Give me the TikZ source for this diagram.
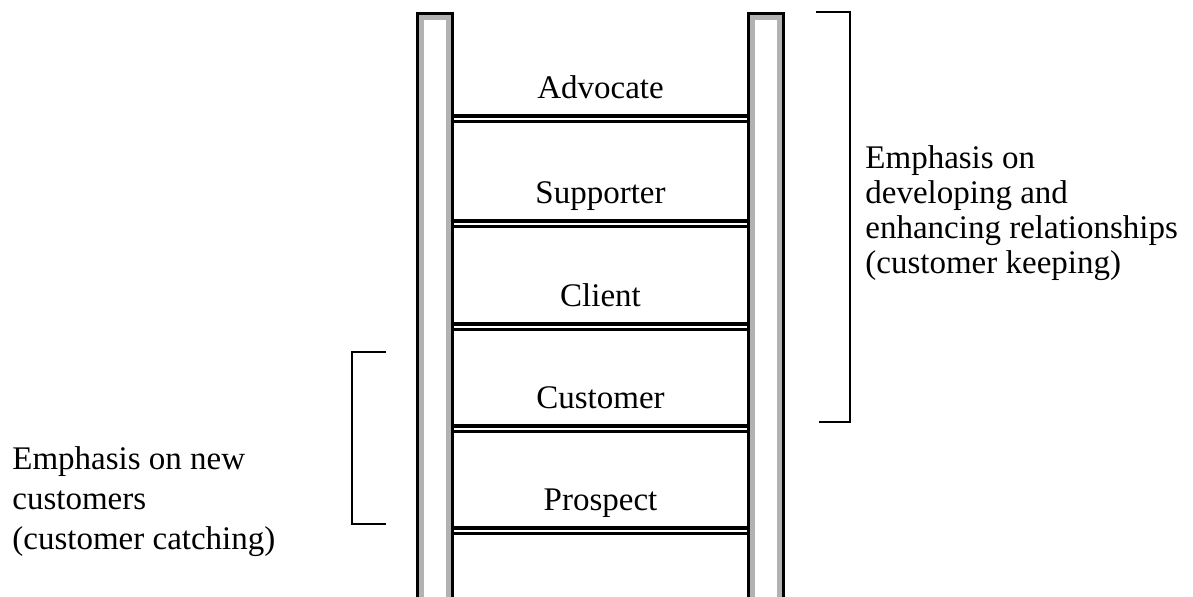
\documentclass[tikz,border=0pt]{standalone}
\usepackage{fontspec}
\setmainfont{Liberation Serif}
\begin{document}
\begin{tikzpicture}[x=0.5pt,y=-0.5pt,
  rail/.style={draw=black,line width=1.5pt,fill=gray!60},
  railcore/.style={fill=white},
  rungtop/.style={line width=2pt},
  rungbot/.style={line width=1.5pt},
  bracket/.style={line width=1pt},
  steplabel/.style={font=\fontsize{16.5}{18}\selectfont,inner sep=0pt,anchor=base},
  sidetext/.style={inner sep=0pt,anchor=base west,align=left}]
\useasboundingbox (0,0) rectangle (1193,597);
\begin{scope}
  \clip (0,0) rectangle (1193,597);
  % ladder rails
  \path[rail] (417.5,13.5) rectangle (452.5,610);
  \path[railcore] (424,20) rectangle (446,610);
  \path[rail] (748.5,13.5) rectangle (783.5,610);
  \path[railcore] (755,20) rectangle (777,610);
\end{scope}
% rungs and the stage names above them
\foreach \y/\name/\txt in {114/adv/Advocate,219/sup/Supporter,322/cli/Client,424/cus/Customer,526/pro/Prospect}{
  \coordinate (\name L) at (454,\y);
  \coordinate (\name R) at (747,\y);
  \draw[rungtop] ([yshift=-1pt]\name L) -- ([yshift=-1pt]\name R);
  \draw[rungbot] ([yshift=-3.75pt]\name L) -- ([yshift=-3.75pt]\name R);
  \node[steplabel] (\name) at (600.5,\y-15) {\txt};
}
% bracket for the upper rungs
\coordinate (rt1) at (816,12);
\coordinate (rt2) at (850,12);
\coordinate (rb2) at (850,422);
\coordinate (rb1) at (819,422);
\draw[bracket] (rt1) -- (rt2) -- (rb2) -- (rb1);
% bracket for the lower rungs
\coordinate (lt1) at (386,352);
\coordinate (lt2) at (352,352);
\coordinate (lb2) at (352,524);
\coordinate (lb1) at (386,524);
\draw[bracket] (lt1) -- (lt2) -- (lb2) -- (lb1);
% side notes (anchored at the baseline of their last line)
\node[sidetext,font=\fontsize{16.5}{17.5}\selectfont] (keep) at (865,274)
  {Emphasis on\\developing and\\enhancing relationships\\(customer keeping)};
\node[sidetext,font=\fontsize{16.5}{20}\selectfont] (catch) at (12,550)
  {Emphasis on new\\customers\\(customer catching)};
\end{tikzpicture}
\end{document}
